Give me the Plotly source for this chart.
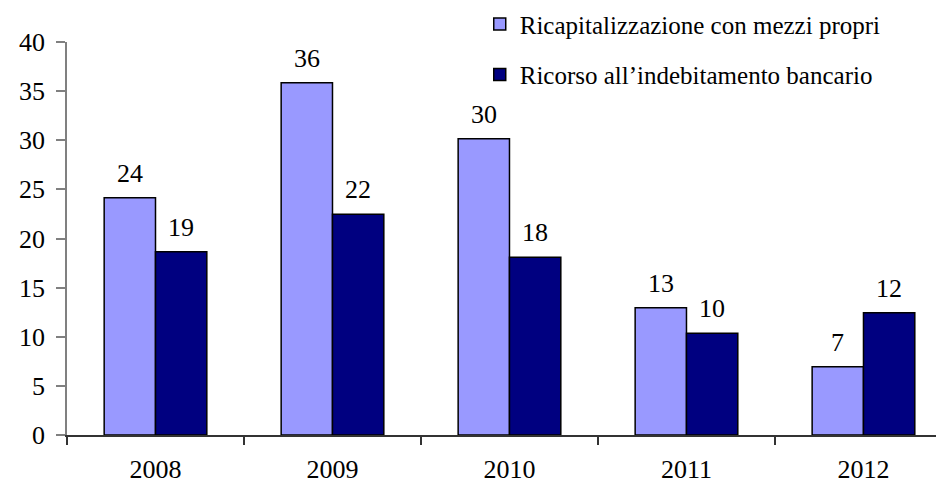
import plotly.graph_objects as go

years = ["2008", "2009", "2010", "2011", "2012"]
mezzi_propri = [24.15, 35.86, 30.16, 12.96, 6.95]
indebitamento = [18.66, 22.46, 18.08, 10.35, 12.45]
label_propri = ["24", "36", "30", "13", "7"]
label_indeb = ["19", "22", "18", "10", "12"]
name_propri = "Ricapitalizzazione con mezzi propri"
name_indeb = "Ricorso all\u2019indebitamento bancario"
y_ticks = [0, 5, 10, 15, 20, 25, 30, 35, 40]

FONT = "Liberation Serif"

fig = go.Figure()
fig.add_trace(go.Bar(
    x=years, y=mezzi_propri, name=name_propri,
    marker=dict(color="#9999FF", line=dict(color="black", width=1.5)),
    legendgroup="a",
))
fig.add_trace(go.Bar(
    x=years, y=indebitamento, name=name_indeb,
    marker=dict(color="#000080", line=dict(color="black", width=1.5)),
    legendgroup="b",
))

half = 0.29 / 2
for i, (v, t) in enumerate(zip(mezzi_propri, label_propri)):
    fig.add_annotation(x=i - half, y=v, text=t, xref="x", yref="y",
                       showarrow=False, yanchor="bottom", yshift=8,
                       font=dict(family=FONT, size=26, color="black"))
for i, (v, t) in enumerate(zip(indebitamento, label_indeb)):
    fig.add_annotation(x=i + half, y=v, text=t, xref="x", yref="y",
                       showarrow=False, yanchor="bottom", yshift=8,
                       font=dict(family=FONT, size=26, color="black"))

# page body has an 8px margin: figure is 936x476 drawn at (8, 8)
fig.update_layout(
    width=936, height=476,
    margin=dict(l=59, r=0, t=34, b=49, autoexpand=False),
    paper_bgcolor="white", plot_bgcolor="white",
    barmode="group", bargap=0.42, bargroupgap=0,
    font=dict(family=FONT, size=26, color="black"),
    showlegend=True,
    legend=dict(x=0.504, y=1.104, xref="container", yref="paper",
                xanchor="left", yanchor="top",
                font=dict(family=FONT, size=25, color="black"),
                bgcolor="rgba(0,0,0,0)", tracegroupgap=15,
                itemwidth=30),
    xaxis=dict(type="category", range=[-0.5, 4.455], automargin=False,
               showline=True, linecolor="#333333", linewidth=1.5,
               ticks="outside", tickson="boundaries", ticklen=8,
               tickcolor="#333333", tickwidth=1.5,
               showgrid=False, zeroline=False,
               ticklabelstandoff=10,
               tickfont=dict(family=FONT, size=26, color="black")),
    yaxis=dict(range=[0, 40], tickvals=y_ticks, automargin=False,
               showline=True, linecolor="#808080", linewidth=1.5,
               ticks="outside", ticklen=9, tickcolor="#808080", tickwidth=1.5,
               showgrid=False, zeroline=False,
               ticklabelstandoff=6,
               tickfont=dict(family=FONT, size=26, color="black")),
)

fig.write_html("out.html")
